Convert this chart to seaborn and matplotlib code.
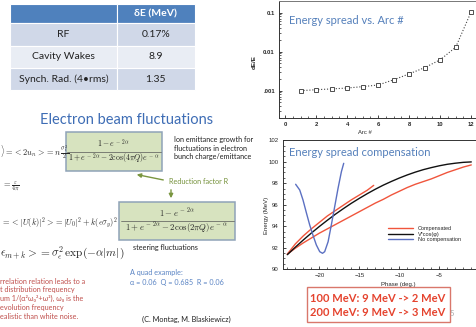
import matplotlib
matplotlib.use("Agg")
import matplotlib.pyplot as plt
from matplotlib.patches import Rectangle
from matplotlib.ticker import MultipleLocator, FixedLocator, FixedFormatter, LogLocator, NullFormatter
import seaborn as sns

# ---------------- data ----------------
# energy spread after each arc
arc_number = [1, 2, 3, 4, 5, 6, 7, 8, 9, 10, 11, 12]
energy_spread = [0.00100, 0.00106, 0.00111, 0.00117, 0.00127, 0.00140,
                 0.0019, 0.0027, 0.0039, 0.0062, 0.013, 0.106]
arc_ticks = [0, 2, 4, 6, 8, 10, 12]
spread_ticks = [0.1, 0.01, 0.001]
spread_tick_labels = ["0.1", "0.01", ".001"]

# energy gain versus RF phase
cos_phase = [-24, -23, -22, -21, -20, -19, -18, -17, -16, -15, -14, -13,
             -12, -11, -10, -9, -8, -7, -6, -5, -4, -3, -2, -1]
cos_energy = [91.35, 92.05, 92.72, 93.36, 93.97, 94.55, 95.11, 95.63, 96.13,
              96.59, 97.03, 97.44, 97.82, 98.16, 98.48, 98.77, 99.03, 99.26,
              99.45, 99.62, 99.76, 99.86, 99.94, 99.98]
comp_upper_phase = [-24, -23, -22, -21, -20, -19, -18, -17, -16, -15, -14, -13.2]
comp_upper_energy = [91.4, 92.35, 93.1, 93.75, 94.35, 94.95, 95.45, 95.95,
                     96.45, 96.9, 97.35, 97.8]
comp_lower_phase = [-24, -23, -22, -21, -20, -19, -18, -17, -16, -15, -14, -13,
                    -12, -11, -10, -9, -8, -7, -6, -5, -4, -3, -2, -1]
comp_lower_energy = [91.4, 91.95, 92.45, 92.9, 93.35, 93.75, 94.15, 94.55,
                     94.95, 95.35, 95.75, 96.15, 96.5, 96.9, 97.25, 97.6, 97.9,
                     98.15, 98.4, 98.7, 99.0, 99.25, 99.5, 99.7]
nocomp_phase = [-22.96, -22.45, -22.04, -21.6, -21.2, -20.8, -20.37, -19.95,
                -19.6, -19.33, -18.9, -18.5, -18.08, -17.66, -17.24, -16.95]
nocomp_energy = [97.9, 97.37, 96.44, 95.2, 94.11, 93.18, 92.25, 91.63,
                 91.48, 91.63, 92.56, 94.11, 95.81, 97.52, 99.07, 99.85]
phase_ticks = [-20, -15, -10, -5]
energy_ticks = [90, 92, 94, 96, 98, 100, 102]
curve_labels = ["Compensated", "V*cos(φ)", "No compensation"]

# energy spread budget
budget_header = "δE (MeV)"
budget_sources = ["RF", "Cavity Wakes", "Synch. Rad. (4•rms)"]
budget_values = ["0.17%", "8.9", "1.35"]

compensation_notes = ["100 MeV: 9 MeV -> 2 MeV", "200 MeV: 9 MeV -> 3 MeV"]

# ---------------- style ----------------
sns.set_theme(style="ticks")
plt.rcParams["font.family"] = ["Lato", "DejaVu Sans"]
plt.rcParams["mathtext.fontset"] = "cm"
plt.rcParams["xtick.direction"] = "in"
plt.rcParams["ytick.direction"] = "in"

W, H = 476, 327
fig = plt.figure(figsize=(W / 100, H / 100), dpi=100)
fig.patch.set_facecolor("white")

# full-figure canvas in pixel units
bg = fig.add_axes([0, 0, 1, 1])
bg.set_xlim(0, W)
bg.set_ylim(H, 0)
bg.axis("off")

TITLE_BLUE = "#3e6db5"
PLOT_BLUE = "#5580bb"
RED_TXT = "#c0504d"
OLIVE = "#7a9640"

# ---- budget table ----
tx0, tx1, tx2 = 10, 116.7, 195
row_edges = [3.7, 23.3, 45.7, 68, 90]
row_colors = ["#4f81bd", "#d0d8e8", "#e9edf4", "#d0d8e8"]
for i, col in enumerate(row_colors):
    y0, y1 = row_edges[i], row_edges[i + 1]
    bg.add_patch(Rectangle((tx0, y0), tx1 - tx0, y1 - y0, fc=col, ec="white", lw=0.8))
    bg.add_patch(Rectangle((tx1, y0), tx2 - tx1, y1 - y0, fc=col, ec="white", lw=0.8))
bg.text((tx1 + tx2) / 2, (row_edges[0] + row_edges[1]) / 2, budget_header,
        ha="center", va="center", color="white", fontsize=7.5, fontweight="bold")
for i, (src, val) in enumerate(zip(budget_sources, budget_values)):
    yc = (row_edges[i + 1] + row_edges[i + 2]) / 2
    bg.text((tx0 + tx1) / 2, yc, src, ha="center", va="center", fontsize=7.5, color="#222")
    bg.text((tx1 + tx2) / 2, yc, val, ha="center", va="center", fontsize=7.5, color="#222")

# ---- slide title ----
bg.text(127, 120, "Electron beam fluctuations", ha="center", va="center",
        fontsize=10.5, color=TITLE_BLUE)

# ---- equations ----
MATH = 6.0
FRAC1 = 5.6
FRAC2 = 6.3
bg.text(0, 152, r"$\rangle =< 2u_n >= n\,\frac{\sigma_i^2}{2}$", ha="left", va="center", fontsize=MATH)
bg.add_patch(Rectangle((65.7, 131.7), 96, 39.3, fc="#d7e3bf", ec="#8fa3b8", lw=1.1))
bg.text(113.7, 143.5, r"$1-e^{\,-\,2\alpha}$", ha="center", va="center", fontsize=FRAC1)
bg.plot([67, 160.5], [152.3, 152.3], color="#555555", lw=0.5)
bg.text(113.7, 158.5, r"$1+e^{\,-\,2\alpha}-2\cos(4\pi Q)e^{\,-\,\alpha}$", ha="center", va="center", fontsize=FRAC1)
bg.text(2, 186.5, r"$=\frac{\varepsilon}{4\pi}$", ha="left", va="center", fontsize=MATH)

for k, line in enumerate(["Ion emittance growth for", "fluctuations in electron", "bunch charge/emittance"]):
    bg.text(174, 139.5 + 8.7 * k, line, ha="left", va="center", fontsize=5.2, color="#222")

bg.text(169, 181, "Reduction factor R", ha="left", va="center", fontsize=5.2, color="#76923c")
bg.annotate("", xy=(134, 174), xytext=(166, 180.5),
            arrowprops=dict(arrowstyle="-|>", color=OLIVE, lw=1.0, mutation_scale=6))
bg.annotate("", xy=(171, 201), xytext=(171, 187),
            arrowprops=dict(arrowstyle="-|>", color=OLIVE, lw=1.0, mutation_scale=6))

bg.add_patch(Rectangle((119.3, 201.7), 115.7, 38, fc="#d7e3bf", ec="#8fa3b8", lw=1.1))
bg.text(177, 213.5, r"$1-e^{\,-\,2\alpha}$", ha="center", va="center", fontsize=FRAC2)
bg.plot([120.5, 234], [221, 221], color="#555555", lw=0.5)
bg.text(177, 228.5, r"$1+e^{\,-\,2\alpha}-2\cos(2\pi Q)e^{\,-\,\alpha}$", ha="center", va="center", fontsize=FRAC2)
bg.text(1, 223, r"$=<|U(k)|^2>=|U_0|^2+k(\epsilon\sigma_y)^2$", ha="left", va="center", fontsize=MATH)
bg.text(132.7, 247.7, "steering fluctuations", ha="left", va="center", fontsize=5.2, color="#222")
bg.text(0, 253.5, r"$\epsilon_{m+k} >= \sigma_\epsilon^2\,\exp(-\alpha|m|)$", ha="left", va="center", fontsize=8.2)

red_lines = ["rrelation relation leads to a", "t distribution frequency",
             "um 1/(α²ω₀²+ω²), ω₀ is the", "evolution frequency",
             "ealistic than white noise."]
for k, line in enumerate(red_lines):
    bg.text(0, 281 + 8.9 * k, line, ha="left", va="center", fontsize=5.2, color=RED_TXT)

bg.text(130, 272.3, "A quad example:", ha="left", va="center", fontsize=5.2, color="#5a84c4")
bg.text(130, 282.7, "α = 0.06  Q = 0.685  R = 0.06", ha="left", va="center", fontsize=5.2, color="#5a84c4")
bg.text(141.7, 319, "(C. Montag, M. Blaskiewicz)", ha="left", va="center", fontsize=5.3, color="#222")

# ---- compensation summary box ----
bg.text(452, 314, "5", ha="center", va="center", fontsize=5.5, color="#aaaaaa")
bg.add_patch(Rectangle((306.7, 286.7), 143.3, 35, fc="white", ec="#d9776b", lw=1.0))
for k, note in enumerate(compensation_notes):
    bg.text(377.5, 298.3 + 14.4 * k, note, ha="center", va="center", fontsize=8,
            fontweight="bold", color="#e5432e")

TICK_FONT = ["Liberation Sans", "DejaVu Sans"]

# ---------------- energy spread vs arc ----------------
ax1 = fig.add_axes([279 / W, 1 - 118 / H, 201.5 / W, 117.2 / H])
ax1.set_facecolor("none")
sns.lineplot(x=arc_number, y=energy_spread, ax=ax1, color="#444444", lw=0.8,
             linestyle=":", marker="s", markersize=3.2, markerfacecolor="white",
             markeredgecolor="#333333", markeredgewidth=0.6)
ax1.set_yscale("log")
ax1.set_xlim(-0.387, 12.6)
ax1.set_ylim(10 ** -3.7, 10 ** -0.695)
ax1.xaxis.set_major_locator(FixedLocator(arc_ticks))
ax1.xaxis.set_minor_locator(MultipleLocator(0.5))
ax1.yaxis.set_major_locator(FixedLocator(spread_ticks))
ax1.yaxis.set_major_formatter(FixedFormatter(spread_tick_labels))
ax1.yaxis.set_minor_locator(LogLocator(base=10, subs=range(2, 10)))
ax1.yaxis.set_minor_formatter(NullFormatter())
ax1.tick_params(which="major", length=2.4, width=0.6, labelsize=4.2, pad=3)
ax1.tick_params(which="minor", length=1.2, width=0.5)
ax1.tick_params(top=False, right=False, which="both")
for lab in ax1.get_xticklabels() + ax1.get_yticklabels():
    lab.set_fontweight("bold")
    lab.set_family(TICK_FONT)
for s in ax1.spines.values():
    s.set_linewidth(0.7)
    s.set_color("#333333")
ax1.spines["top"].set_color("#777777")
ax1.set_xlabel("Arc #", fontsize=4.2, family=TICK_FONT)
ax1.set_ylabel("dE/E", fontsize=4.5, fontweight="bold", family=TICK_FONT)
ax1.xaxis.set_label_coords((365 - 279) / 201.5, -0.102)
ax1.yaxis.set_label_coords((257 - 279) / 201.5, 0.478)
ax1.text((289 - 279) / 201.5, (118 - 21) / 117.2, "Energy spread vs. Arc #",
         transform=ax1.transAxes, ha="left", va="center", fontsize=8, color=PLOT_BLUE)

# ---------------- energy spread compensation ----------------
ax2 = fig.add_axes([283 / W, 1 - 269.2 / H, 200.3 / W, 129 / H])
ax2.set_facecolor("none")
RED = "#f0553c"
sns.lineplot(x=comp_upper_phase, y=comp_upper_energy, ax=ax2, color=RED, lw=1.0,
             sort=False, label=curve_labels[0])
sns.lineplot(x=comp_lower_phase, y=comp_lower_energy, ax=ax2, color=RED, lw=1.0,
             sort=False, label="_lower")
sns.lineplot(x=cos_phase, y=cos_energy, ax=ax2, color="#111111", lw=1.0,
             sort=False, label=curve_labels[1])
sns.lineplot(x=nocomp_phase, y=nocomp_energy, ax=ax2, color="#5b70c2", lw=1.0,
             sort=False, label=curve_labels[2])
ax2.set_xlim(-24.54, 0.5)
ax2.set_ylim(90, 102)
ax2.xaxis.set_major_locator(FixedLocator(phase_ticks))
ax2.xaxis.set_minor_locator(MultipleLocator(1))
ax2.yaxis.set_major_locator(FixedLocator(energy_ticks))
ax2.yaxis.set_minor_locator(MultipleLocator(0.5))
ax2.tick_params(which="major", length=2.4, width=0.6, labelsize=4.3, pad=3)
ax2.tick_params(which="minor", length=1.2, width=0.5)
ax2.tick_params(top=False, right=False, which="both")
for lab in ax2.get_xticklabels() + ax2.get_yticklabels():
    lab.set_family(TICK_FONT)
for s in ax2.spines.values():
    s.set_linewidth(0.7)
    s.set_color("#333333")
ax2.set_xlabel("Phase (deg.)", fontsize=4.3, family=TICK_FONT)
ax2.set_ylabel("Energy (MeV)", fontsize=4.3, family=TICK_FONT)
ax2.xaxis.set_label_coords((398 - 283) / 200.3, (269.2 - 282) / 129)
ax2.yaxis.set_label_coords((269 - 283) / 200.3, (269.2 - 215) / 129)
ax2.text((289 - 283) / 200.3, (269.2 - 152) / 129, "Energy spread compensation",
         transform=ax2.transAxes, ha="left", va="center", fontsize=8, color=PLOT_BLUE)
leg = ax2.legend(loc="upper left", bbox_to_anchor=(388, 226), bbox_transform=bg.transData,
                 frameon=False, fontsize=4, handlelength=4.5, handletextpad=0.9,
                 labelspacing=0.1, borderpad=0, borderaxespad=0,
                 prop={"family": TICK_FONT, "size": 4})

fig.savefig("out.png", dpi=100, facecolor="white")
